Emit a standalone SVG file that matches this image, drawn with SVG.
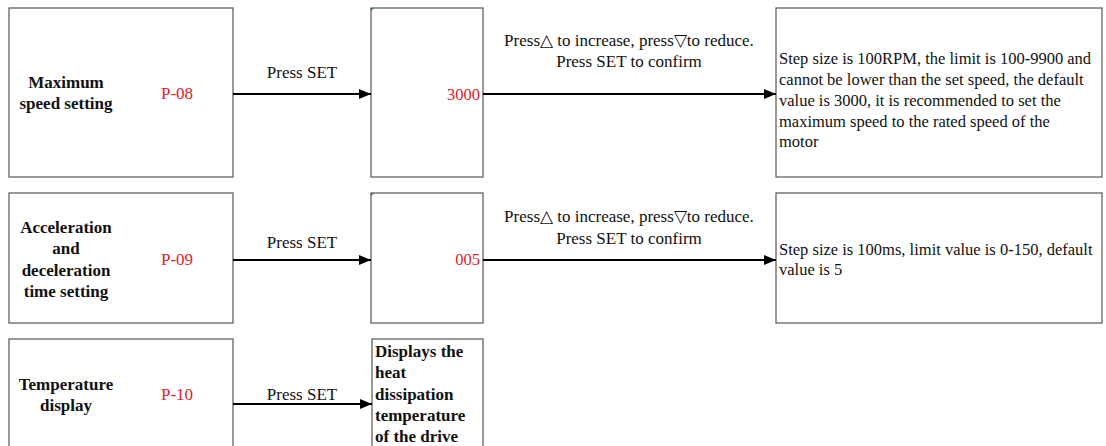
<svg xmlns="http://www.w3.org/2000/svg" width="1106" height="446" viewBox="0 0 1106 446">
<defs>
<style>
.box{fill:#fff;stroke:#555;stroke-width:1.2}
text{font-family:'Liberation Serif','Times New Roman',serif;font-size:17px;fill:#111}
.d{font-size:16.5px}
.b{font-weight:bold}
.r{fill:#e0202a}
.c{text-anchor:middle}
.e{text-anchor:end}
.conn{stroke:#000;stroke-width:2;fill:none}
</style>
<marker id="ah" viewBox="0 0 12 10" refX="12" refY="5" markerWidth="12" markerHeight="10" markerUnits="userSpaceOnUse" orient="auto">
<path d="M0,0 L12,5 L0,10 z" fill="#000"/>
</marker>
</defs>
<rect width="1106" height="446" fill="#fff"/>

<g id="node-p08">
<rect class="box" x="9" y="8" width="224" height="169"/>
<text class="b c" x="66" y="88">Maximum</text>
<text class="b c" x="66" y="109">speed setting</text>
<text class="r c" x="177" y="99">P-08</text>
</g>
<g id="node-3000">
<rect class="box" x="371" y="8" width="112" height="169"/>
<path d="M371,8 L374,8 L371,11 z" fill="#1a8a1a"/>
<text class="r e d" x="480" y="100">3000</text>
</g>
<g id="node-desc1">
<rect class="box" x="776" y="8" width="326" height="169"/>
<text class="d" x="779" y="64">Step size is 100RPM, the limit is 100-9900 and</text>
<text class="d" x="779" y="85">cannot be lower than the set speed, the default</text>
<text class="d" x="779" y="106">value is 3000, it is recommended to set the</text>
<text class="d" x="779" y="127">maximum speed to the rated speed of the</text>
<text class="d" x="779" y="147">motor</text>
</g>

<g id="node-p09">
<rect class="box" x="9" y="193" width="224" height="130"/>
<text class="b c" x="66" y="233">Acceleration</text>
<text class="b c" x="66" y="254">and</text>
<text class="b c" x="66" y="276">deceleration</text>
<text class="b c" x="66" y="297">time setting</text>
<text class="r c" x="177" y="265">P-09</text>
</g>
<g id="node-005">
<rect class="box" x="371" y="193" width="112" height="130"/>
<path d="M371,193 L374,193 L371,196 z" fill="#1a8a1a"/>
<text class="r e d" x="480" y="265">005</text>
</g>
<g id="node-desc2">
<rect class="box" x="776" y="193" width="326" height="130"/>
<text class="d" x="779" y="255">Step size is 100ms, limit value is 0-150, default</text>
<text class="d" x="779" y="275">value is 5</text>
</g>

<g id="node-p10">
<rect class="box" x="9" y="339" width="224" height="120"/>
<text class="b c" x="66" y="390">Temperature</text>
<text class="b c" x="66" y="411">display</text>
<text class="r c" x="177" y="400">P-10</text>
</g>
<g id="node-temp">
<rect class="box" x="372" y="339" width="111" height="120"/>
<text class="b" x="375" y="357">Displays the</text>
<text class="b" x="375" y="378">heat</text>
<text class="b" x="375" y="400">dissipation</text>
<text class="b" x="375" y="421">temperature</text>
<text class="b" x="375" y="442">of the drive</text>
</g>

<g id="connectors">
<line class="conn" x1="233" y1="94" x2="371" y2="94" marker-end="url(#ah)"/>
<text class="c" x="302" y="78">Press SET</text>
<line class="conn" x1="483" y1="94" x2="776" y2="94" marker-end="url(#ah)"/>
<text class="c" x="629" y="46">Press△ to increase, press▽to reduce.</text>
<text class="c" x="629" y="67">Press SET to confirm</text>

<line class="conn" x1="233" y1="260" x2="371" y2="260" marker-end="url(#ah)"/>
<text class="c" x="302" y="248">Press SET</text>
<line class="conn" x1="483" y1="260" x2="776" y2="260" marker-end="url(#ah)"/>
<text class="c" x="629" y="222">Press△ to increase, press▽to reduce.</text>
<text class="c" x="629" y="244">Press SET to confirm</text>

<line class="conn" x1="233" y1="404" x2="372" y2="404" marker-end="url(#ah)"/>
<text class="c" x="302" y="400">Press SET</text>
</g>
</svg>
